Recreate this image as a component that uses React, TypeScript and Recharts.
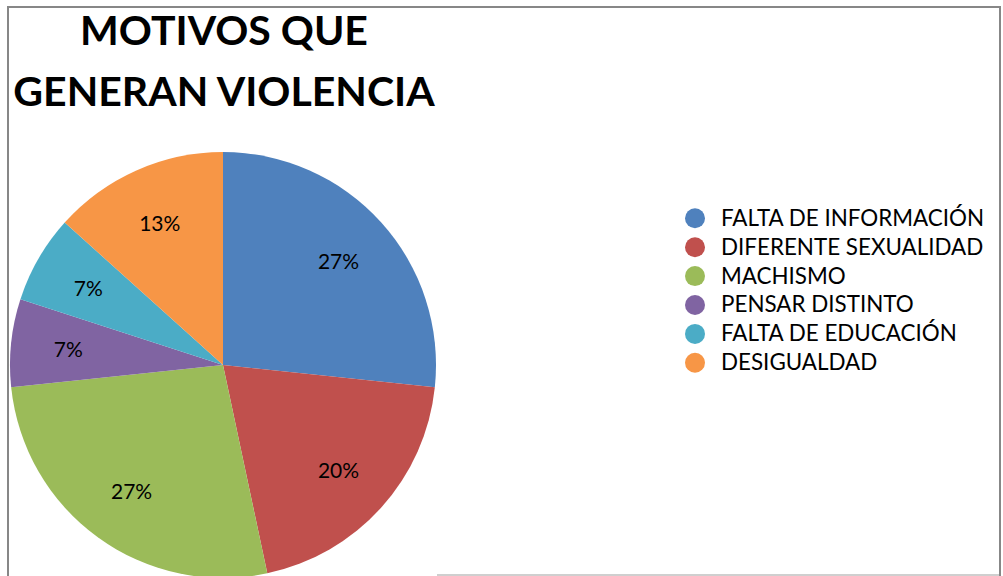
import React from 'react';
import { PieChart, Pie, Cell, Legend } from 'recharts';

const categories = [
  'FALTA DE INFORMACIÓN',
  'DIFERENTE SEXUALIDAD',
  'MACHISMO',
  'PENSAR DISTINTO',
  'FALTA DE EDUCACIÓN',
  'DESIGUALDAD',
];
const values = [4, 3, 4, 1, 1, 2];
const colors = ['#4F81BD', '#C0504D', '#9BBB59', '#8064A2', '#4BACC6', '#F79646'];
const titleLines = ['MOTIVOS QUE', 'GENERAN VIOLENCIA'];

const data = categories.map((name, i) => ({ name, value: values[i], color: colors[i] }));

const RAD = Math.PI / 180;
const renderLabel = (props: any) => {
  const { cx, cy, midAngle, outerRadius, percent } = props;
  const r = outerRadius * 0.73;
  const x = cx + r * Math.cos(-midAngle * RAD);
  const y = cy + r * Math.sin(-midAngle * RAD);
  return (
    <text
      x={x}
      y={y}
      textAnchor="middle"
      dominantBaseline="central"
      fontFamily="Lato"
      fontSize={21}
      fill="#000"
    >
      {`${Math.round(percent * 100)}%`}
    </text>
  );
};

const renderLegend = () => (
  <svg width={340} height={190}>
    {data.map((d, i) => (
      <g key={d.name}>
        <circle cx={35} cy={28.3 + i * 28.9} r={10} fill={d.color} />
        <text x={61} y={35.7 + i * 28.9} fontFamily="Lato" fontSize={22.4} fill="#000">
          {d.name}
        </text>
      </g>
    ))}
  </svg>
);

export default function App() {
  return (
    <div
      style={{
        position: 'absolute',
        left: 0,
        top: 0,
        width: 1003,
        height: 576,
        overflow: 'hidden',
        background: '#fff',
      }}
    >
      <div
        style={{
          position: 'absolute',
          left: 7,
          top: 6,
          width: 990,
          height: 600,
          borderLeft: '2px solid #878787',
          borderTop: '2px solid #878787',
          borderRight: '2px solid #878787',
        }}
      />
      <div
        style={{
          position: 'absolute',
          left: 437,
          top: 574,
          width: 562,
          height: 2,
          background: '#cfcfcf',
        }}
      />
      <div style={{ position: 'absolute', left: 0, top: 0 }}>
        <PieChart width={1003} height={600} margin={{ top: 0, right: 0, bottom: 0, left: 0 }}>
          <Pie
            data={data}
            dataKey="value"
            nameKey="name"
            cx={223}
            cy={365}
            outerRadius={213}
            startAngle={90}
            endAngle={-270}
            stroke="none"
            label={renderLabel}
            labelLine={false}
            isAnimationActive={false}
          >
            {data.map((d) => (
              <Cell key={d.name} fill={d.color} />
            ))}
          </Pie>
          <Legend
            content={renderLegend}
            wrapperStyle={{ position: 'absolute', left: 660, top: 190, width: 340, height: 190 }}
          />
        </PieChart>
      </div>
      <svg
        width={1003}
        height={130}
        style={{ position: 'absolute', left: 0, top: 0 }}
      >
        {titleLines.map((t, i) => (
          <text
            key={t}
            x={224}
            y={45 + i * 61}
            textAnchor="middle"
            fontFamily="Lato"
            fontWeight="bold"
            fontSize={41}
            fill="#000"
          >
            {t}
          </text>
        ))}
      </svg>
    </div>
  );
}
